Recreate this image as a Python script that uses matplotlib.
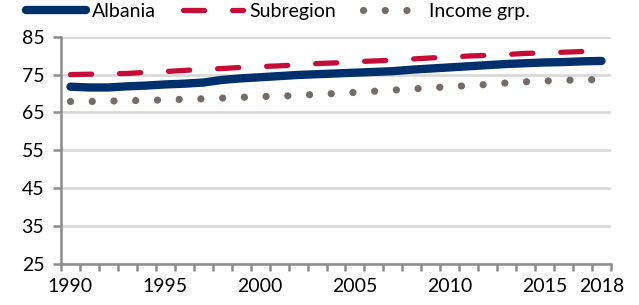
import numpy as np
import matplotlib
matplotlib.use("Agg")
import matplotlib.pyplot as plt

years = list(range(1990, 2019))
albania = [71.8, 71.6, 71.6, 71.9, 72.1, 72.4, 72.6, 72.9, 73.6, 74.0,
           74.3, 74.6, 74.9, 75.1, 75.3, 75.5, 75.7, 75.9, 76.3, 76.6,
           76.9, 77.2, 77.5, 77.8, 78.0, 78.2, 78.3, 78.5, 78.6]
subregion = [75.0, 75.1, 75.2, 75.3, 75.6, 75.8, 76.1, 76.4, 76.6, 76.9,
             77.1, 77.3, 77.6, 77.9, 78.1, 78.4, 78.6, 78.8, 79.1, 79.4,
             79.6, 79.9, 80.1, 80.3, 80.6, 80.7, 80.9, 81.1, 81.3]
income = [67.9, 67.9, 68.0, 68.1, 68.2, 68.3, 68.5, 68.6, 68.8, 69.0,
          69.2, 69.3, 69.5, 69.8, 70.0, 70.3, 70.6, 70.9, 71.2, 71.5,
          71.8, 72.1, 72.4, 72.8, 73.1, 73.3, 73.5, 73.6, 73.7]
yticks = [25, 35, 45, 55, 65, 75, 85]
xlabel_years = [1990, 1995, 2000, 2005, 2010, 2015, 2018]

plt.rcParams["font.family"] = ["Lato", "DejaVu Sans"]

fig = plt.figure(figsize=(6.39, 3.05), dpi=100)
ax = fig.add_axes([61 / 639, 41 / 305, 550 / 639, 227.3 / 305])

x = np.arange(len(years))
ax.plot(x, albania, color="#00306b", lw=6, solid_capstyle="round", label="Albania", zorder=3)
ax.plot(x, subregion, color="#c60d37", lw=3.8, linestyle=(0, (4, 5.3)),
        dash_capstyle="round", label="Subregion", zorder=3)
ax.plot(x, income, color="#746c69", lw=5.2, linestyle=(0, (0.01, 3.0)),
        dash_capstyle="round", label="Income grp.", zorder=3)

ax.set_xlim(-0.5, len(years) - 0.5)
ax.set_ylim(25, 85)
ax.set_yticks(yticks)
ax.set_yticklabels([str(v) for v in yticks], fontsize=14)
ax.set_xticks([years.index(y) for y in xlabel_years])
ax.set_xticklabels([str(y) for y in xlabel_years], fontsize=14)
ax.set_xticks(np.arange(-0.5, len(years)), minor=True)
ax.tick_params(axis="x", which="major", length=0, pad=10)
ax.tick_params(axis="x", which="minor", length=5, width=1.8, color="#8c8c8c", direction="out")
ax.tick_params(axis="y", length=6, width=1.8, color="#8c8c8c", pad=6)

for s in ["top", "right"]:
    ax.spines[s].set_visible(False)
for s in ["left", "bottom"]:
    ax.spines[s].set_color("#8c8c8c")
    ax.spines[s].set_linewidth(1.8)

ax.grid(axis="y", color="#d9d9d9", lw=2)
ax.set_axisbelow(True)

fig.legend(loc="upper left", bbox_to_anchor=(0.04, 0.99), ncol=3, frameon=False,
           fontsize=14, handlelength=3.1, handletextpad=0.3, columnspacing=1.4,
           borderaxespad=0, borderpad=0)

fig.savefig("out.png", dpi=100)
